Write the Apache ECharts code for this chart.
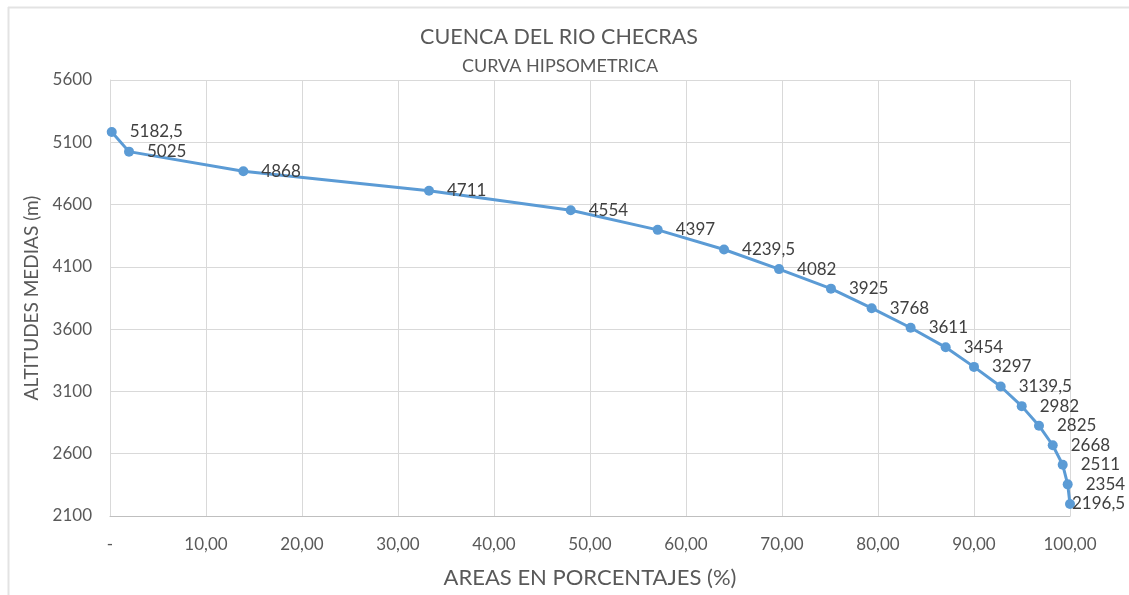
<!DOCTYPE html>
<html>
<head>
<meta charset="utf-8">
<script src="https://cdn.jsdelivr.net/npm/echarts@6/dist/echarts.min.js"></script>
<style>html,body{margin:0;padding:0;background:#fff;}#c{width:1129px;height:595px;}</style>
</head>
<body>
<div id="c"></div>
<script>
var areasPct = [0.18, 1.98, 13.89, 33.23, 47.99, 57.05, 63.96, 69.69, 75.10, 79.34, 83.40, 87.05, 90.00, 92.78, 94.97, 96.77, 98.20, 99.24, 99.76, 100.00];
var altitudes = [5182.5, 5025, 4868, 4711, 4554, 4397, 4239.5, 4082, 3925, 3768, 3611, 3454, 3297, 3139.5, 2982, 2825, 2668, 2511, 2354, 2196.5];
var yTicks = [2100, 2600, 3100, 3600, 4100, 4600, 5100, 5600];

var FONT = 'Lato';
var points = areasPct.map(function (x, i) {
  var item = { value: [x, altitudes[i]] };
  if (i === areasPct.length - 1) { item.label = { distance: -3 }; }
  return item;
});

var chart = echarts.init(document.getElementById('c'));
chart.setOption({
  backgroundColor: '#ffffff',
  animation: false,
  graphic: [
    { type: 'line', shape: { x1: 8, y1: 7.5, x2: 1129, y2: 7.5 }, style: { stroke: '#e3e3e3', lineWidth: 2 } },
    { type: 'line', shape: { x1: 8.5, y1: 7, x2: 8.5, y2: 595 }, style: { stroke: '#e3e3e3', lineWidth: 2 } }
  ],
  title: [
    { text: 'CUENCA DEL RIO CHECRAS', left: 554, top: 21, textAlign: 'center',
      textStyle: { fontFamily: FONT, fontSize: 21.5, fontWeight: 'normal', color: '#595959' } },
    { text: 'CURVA HIPSOMETRICA', left: 555, top: 52, textAlign: 'center',
      textStyle: { fontFamily: FONT, fontSize: 18, fontWeight: 'normal', color: '#595959' } }
  ],
  grid: { left: 110, right: 59, top: 80, bottom: 79 },
  xAxis: {
    type: 'value', min: 0, max: 100, interval: 10,
    name: 'AREAS EN PORCENTAJES (%)', nameLocation: 'middle', nameGap: 51,
    nameTextStyle: { fontFamily: FONT, fontSize: 22, color: '#595959' },
    axisLine: { show: true, lineStyle: { color: '#bfbfbf', width: 1 } },
    axisTick: { show: false },
    axisLabel: { fontFamily: FONT, fontSize: 17, color: '#595959', margin: 20,
      formatter: function (v) { return v === 0 ? '-' : v.toFixed(2).replace('.', ','); } },
    splitLine: { show: true, lineStyle: { color: '#d9d9d9', width: 1 } }
  },
  yAxis: {
    type: 'value', min: 2100, max: 5600,
    name: 'ALTITUDES MEDIAS (m)', nameLocation: 'middle', nameGap: 65, nameRotate: 90,
    nameTextStyle: { fontFamily: FONT, fontSize: 19, color: '#595959' },
    axisLine: { show: true, lineStyle: { color: '#d9d9d9', width: 1 } },
    axisTick: { show: false, customValues: yTicks },
    axisLabel: { fontFamily: FONT, fontSize: 17, color: '#595959', margin: 18, customValues: yTicks,
      formatter: function (v) { return String(v); } },
    splitLine: { show: true, lineStyle: { color: '#d9d9d9', width: 1 } }
  },
  series: [{
    type: 'line',
    data: points,
    smooth: false,
    symbol: 'circle',
    symbolSize: 10,
    lineStyle: { color: '#5b9bd5', width: 3 },
    itemStyle: { color: '#5b9bd5' },
    label: {
      show: true, position: 'right', distance: 13,
      fontFamily: FONT, fontSize: 17, color: '#404040',
      formatter: function (p) { return String(p.value[1]).replace('.', ','); }
    }
  }]
});
</script>
</body>
</html>
